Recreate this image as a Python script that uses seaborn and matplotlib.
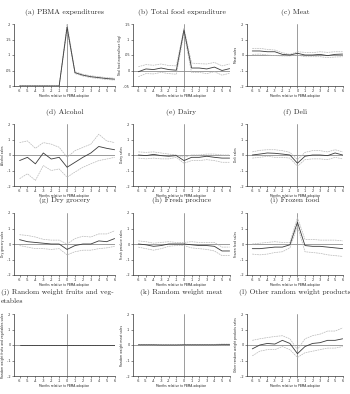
import matplotlib
matplotlib.use("Agg")
import matplotlib.pyplot as plt
import seaborn as sns

# months relative to adoption
months = [-6, -5, -4, -3, -2, -1, 0, 1, 2, 3, 4, 5, 6]

titles = [
    "(a) PBMA expenditures", "(b) Total food expenditure", "(c) Meat",
    "(d) Alcohol", "(e) Dairy", "(f) Deli",
    "(g) Dry grocery", "(h) Fresh produce", "(i) Frozen food",
    "(j) Random weight fruits and veg-\netables", "(k) Random weight meat",
    "(l) Other random weight products",
]
ylabels = [
    "", "Total food expenditure (log)", "Meat sales",
    "Alcohol sales", "Dairy sales", "Deli sales",
    "Dry grocery sales", "Fresh produce sales", "Frozen food sales",
    "Random weight fruits and vegetables sales", "Random weight meat sales",
    "Other random weight products sales",
]

ticks_pbma = [0, .05, .1, .15, .2]
ticks_total = [-.05, 0, .05, .1, .15]
ticks_std = [-.2, -.1, 0, .1, .2]

pbma_est = [0, 0, 0, 0, 0, 0, 0.19, 0.043, 0.035, 0.030, 0.027, 0.024, 0.022]
pbma_hi = [0.002, 0.002, 0.002, 0.001, 0.001, 0.001, 0.2, 0.046, 0.038, 0.033, 0.030, 0.027, 0.025]
pbma_lo = [-0.002, -0.002, -0.002, -0.001, -0.001, -0.001, 0.18, 0.040, 0.032, 0.027, 0.024, 0.021, 0.019]

total_est = [-0.004, 0.005, 0.003, 0.008, 0.003, 0.001, 0.131, 0.008, 0.008, 0.005, 0.011, 0.0, 0.006]
total_hi = [0.012, 0.019, 0.017, 0.021, 0.016, 0.015, 0.136, 0.024, 0.022, 0.021, 0.026, 0.015, 0.021]
total_lo = [-0.02, -0.01, -0.011, -0.006, -0.01, -0.012, 0.12, -0.007, -0.006, -0.01, -0.004, -0.015, -0.009]

meat_est = [0.026, 0.026, 0.021, 0.021, 0.004, 0, 0.011, 0, 0, 0.004, -0.004, 0.004, 0.006]
meat_hi = [0.043, 0.043, 0.036, 0.032, 0.015, 0.004, 0.021, 0.017, 0.015, 0.021, 0.017, 0.021, 0.021]
meat_lo = [0.004, 0.006, 0, -0.004, -0.006, -0.006, 0, -0.011, -0.011, -0.011, -0.017, -0.013, -0.011]

alcohol_est = [-0.036, -0.015, -0.057, 0.013, -0.026, -0.015, -0.079, -0.047, -0.015, 0.013, 0.055, 0.043, 0.034]
alcohol_hi = [0.08, 0.091, 0.043, 0.08, 0.07, 0.05, -0.015, 0.028, 0.049, 0.07, 0.134, 0.091, 0.08]
alcohol_lo = [-0.153, -0.121, -0.164, -0.068, -0.1, -0.09, -0.143, -0.11, -0.079, -0.057, -0.036, -0.026, -0.015]

dairy_est = [0, -0.004, 0.004, -0.004, -0.008, -0.004, -0.036, -0.015, -0.015, -0.008, -0.015, -0.02, -0.02]
dairy_hi = [0.02, 0.017, 0.02, 0.013, 0.006, 0, -0.015, 0, 0, 0.006, 0.006, 0, 0]
dairy_lo = [-0.02, -0.025, -0.02, -0.025, -0.025, -0.015, -0.053, -0.036, -0.036, -0.03, -0.036, -0.047, -0.047]

deli_est = [0, 0.006, 0.013, 0.011, 0.006, 0, -0.053, -0.008, 0, 0, -0.004, 0.013, 0]
deli_hi = [0.02, 0.03, 0.034, 0.034, 0.028, 0.017, -0.03, 0.017, 0.028, 0.028, 0.02, 0.034, 0.02]
deli_lo = [-0.02, -0.015, -0.008, -0.015, -0.015, -0.02, -0.072, -0.03, -0.025, -0.025, -0.03, -0.015, -0.025]

dry_est = [0.028, 0.015, 0.01, 0.005, 0, 0, -0.035, -0.01, 0, 0, 0.02, 0.015, 0.035]
dry_hi = [0.06, 0.055, 0.045, 0.03, 0.025, 0.025, 0, 0.035, 0.05, 0.045, 0.065, 0.065, 0.085]
dry_lo = [-0.01, -0.02, -0.03, -0.03, -0.035, -0.03, -0.07, -0.05, -0.04, -0.04, -0.03, -0.025, -0.015]

fresh_est = [0, -0.005, -0.015, -0.01, 0, 0, 0, -0.005, -0.01, -0.01, -0.015, -0.045, -0.045]
fresh_hi = [0.02, 0.015, 0.005, 0.01, 0.015, 0.01, 0.01, 0.015, 0.01, 0.01, 0.01, -0.02, -0.02]
fresh_lo = [-0.02, -0.03, -0.04, -0.03, -0.015, -0.01, -0.01, -0.025, -0.03, -0.035, -0.045, -0.075, -0.075]

frozen_est = [-0.03, -0.03, -0.025, -0.02, -0.02, -0.005, 0.14, -0.01, -0.015, -0.015, -0.02, -0.025, -0.03]
frozen_hi = [0, 0.005, 0.01, 0.015, 0.01, 0.01, 0.17, 0.03, 0.03, 0.025, 0.025, 0.025, 0.02]
frozen_lo = [-0.065, -0.07, -0.065, -0.055, -0.05, -0.025, 0.115, -0.05, -0.055, -0.06, -0.07, -0.075, -0.08]

rwfv_est = [0, 0, 0, 0, 0, 0, 0, 0, 0, 0, 0, 0, 0]
rwfv_hi = [0.002, 0.002, 0.002, 0.002, 0.002, 0.002, 0.002, 0.002, 0.002, 0.002, 0.002, 0.002, 0.002]
rwfv_lo = [-0.002, -0.002, -0.002, -0.002, -0.002, -0.002, -0.002, -0.002, -0.002, -0.002, -0.002, -0.002, -0.002]

rwmeat_est = [0.001, 0.001, 0.001, 0.0, 0.0, 0.0, 0.001, 0.001, 0.001, 0.001, 0.001, 0.002, 0.002]
rwmeat_hi = [0.004, 0.004, 0.004, 0.003, 0.003, 0.003, 0.004, 0.004, 0.004, 0.004, 0.004, 0.006, 0.006]
rwmeat_lo = [-0.002, -0.002, -0.002, -0.003, -0.003, -0.003, -0.002, -0.002, -0.002, -0.002, -0.002, -0.001, -0.001]

rwother_est = [-0.025, 0, 0.01, 0.006, 0.03, 0.01, -0.056, -0.01, 0.01, 0.015, 0.03, 0.03, 0.04]
rwother_hi = [0.03, 0.04, 0.048, 0.055, 0.06, 0.04, -0.03, 0.04, 0.06, 0.07, 0.09, 0.09, 0.11]
rwother_lo = [-0.07, -0.04, -0.03, -0.03, -0.01, -0.03, -0.08, -0.05, -0.04, -0.03, -0.02, -0.02, -0.01]

series = [
    (pbma_est, pbma_hi, pbma_lo, ticks_pbma),
    (total_est, total_hi, total_lo, ticks_total),
    (meat_est, meat_hi, meat_lo, ticks_std),
    (alcohol_est, alcohol_hi, alcohol_lo, ticks_std),
    (dairy_est, dairy_hi, dairy_lo, ticks_std),
    (deli_est, deli_hi, deli_lo, ticks_std),
    (dry_est, dry_hi, dry_lo, ticks_std),
    (fresh_est, fresh_hi, fresh_lo, ticks_std),
    (frozen_est, frozen_hi, frozen_lo, ticks_std),
    (rwfv_est, rwfv_hi, rwfv_lo, ticks_std),
    (rwmeat_est, rwmeat_hi, rwmeat_lo, ticks_std),
    (rwother_est, rwother_hi, rwother_lo, ticks_std),
]


def stata_fmt(v):
    # stata style labels: .1, -.05, 0
    if abs(v) < 1e-9:
        return "0"
    s = f"{v:g}"
    return s.replace("0.", ".")


sns.set_style("ticks")
plt.rcParams["font.family"] = ["DejaVu Sans"]

W, H = 350, 394
fig = plt.figure(figsize=(W / 100, H / 100), dpi=100)

col_left = [14, 133, 247]
col_w = [101, 97, 96]
row_top = [24, 124, 213, 314]
row_h = 62
title_y = [12, 112, 201, 293]

for i, (est, hi, lo, yt) in enumerate(series):
    r, c = divmod(i, 3)
    ax = fig.add_axes([col_left[c] / W, 1 - (row_top[r] + row_h) / H, col_w[c] / W, row_h / H])
    ax.axhline(0, color="#8c8c8c", lw=0.6, zorder=1)
    ax.axvline(0, color="#8c8c8c", lw=0.6, zorder=1)
    sns.lineplot(x=months, y=hi, ax=ax, color="#b8b8b8", lw=0.5, linestyle=(0, (2.5, 1)), zorder=2)
    sns.lineplot(x=months, y=lo, ax=ax, color="#b8b8b8", lw=0.5, linestyle=(0, (2.5, 1)), zorder=2)
    sns.lineplot(x=months, y=est, ax=ax, color="#3a3a3a", lw=0.6, zorder=3)

    ax.set_xlim(-6.7, 6.05)
    ax.set_ylim(yt[0], yt[-1])
    ax.set_xticks(months)
    ax.set_xticklabels([str(m) for m in months])
    ax.set_yticks(yt)
    ax.set_yticklabels([stata_fmt(v) for v in yt])
    ax.tick_params(labelsize=2.5, length=1.5, width=0.4, pad=0.6, colors="#333333")
    ax.set_xlabel("Months relative to PBMA adoption", fontsize=2.2, labelpad=0.5)
    ax.set_ylabel(ylabels[i], fontsize=2.2, labelpad=0.8)
    sns.despine(ax=ax)
    for s in ["left", "bottom"]:
        ax.spines[s].set_linewidth(0.5)
        ax.spines[s].set_color("#333333")

    if i == 9:
        lines = titles[i].split("\n")
        fig.text(1 / W, 1 - 292 / H, lines[0], ha="left", va="center", fontsize=5.4, family="cmr10")
        fig.text(1 / W, 1 - 301 / H, lines[1], ha="left", va="center", fontsize=5.4, family="cmr10")
    else:
        cx = (col_left[c] + col_w[c] / 2) / W
        fig.text(cx, 1 - title_y[r] / H, titles[i], ha="center", va="center", fontsize=5.4, family="cmr10")

fig.savefig("out.png", dpi=100)
